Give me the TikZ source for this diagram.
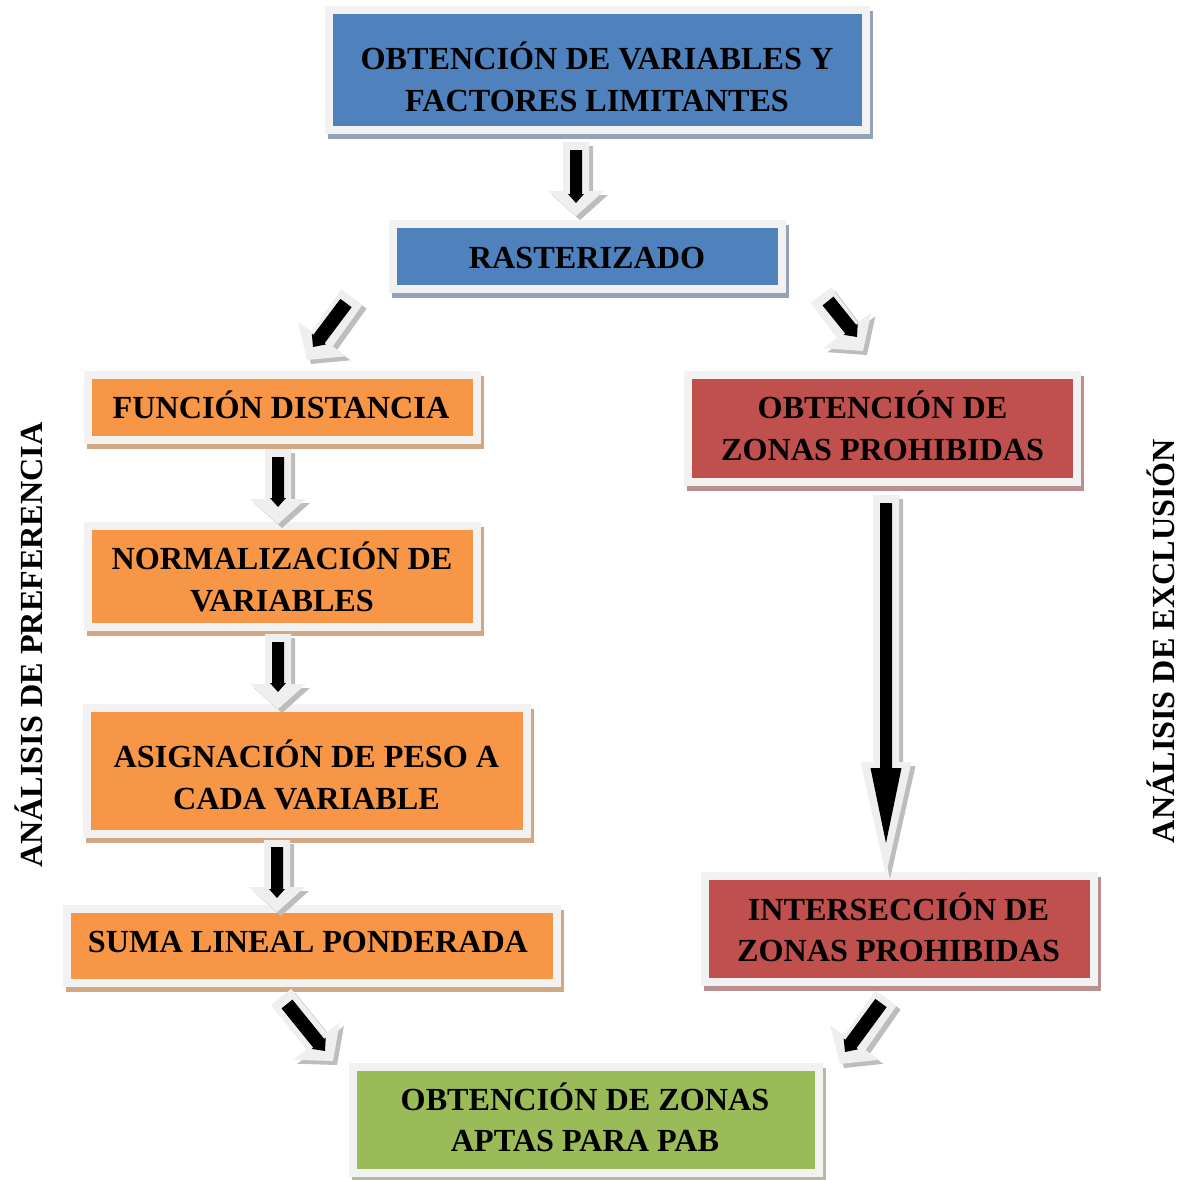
\documentclass[tikz,border=0pt]{standalone}
\usepackage{fontspec}
\setmainfont{Liberation Serif}
\usetikzlibrary{calc}
\definecolor{bxblue}{HTML}{4F81BD}
\definecolor{bxbluesh}{HTML}{95A3B8}
\definecolor{bxorange}{HTML}{F79646}
\definecolor{bxorangesh}{HTML}{D3A684}
\definecolor{bxred}{HTML}{C0504D}
\definecolor{bxredsh}{HTML}{BA8F8F}
\definecolor{bxgreen}{HTML}{9BBB59}
\definecolor{bxgreensh}{HTML}{B3BC9E}
\definecolor{framegray}{HTML}{F2F2F2}
\definecolor{arrlightc}{HTML}{EFEFEF}
\definecolor{arrshc}{HTML}{BDBDBD}
% #1 style, #2 start, #3 tip, #4 half shaft, #5 half head, #6 head length
\newcommand\blockarr[6]{%
  \coordinate (ba-n) at ($(#3)!#6!(#2)$);
  \fill[#1] ($(#2)!#4!90:(#3)$) -- ($(ba-n)!#4!90:(#3)$) -- ($(ba-n)!#5!90:(#3)$) -- (#3)
     -- ($(ba-n)!#5!-90:(#3)$) -- ($(ba-n)!#4!-90:(#3)$) -- ($(#2)!#4!-90:(#3)$) -- cycle;
}
\tikzset{
  box/.style={rectangle, inner sep=0pt, fill=#1, draw=framegray, line width=4pt,
    preaction={draw=#1sh, line width=4pt, transform canvas={xshift=1.5pt,yshift=-2.5pt}}},
  lbl/.style={font=\bfseries\fontsize{16.1}{21}\selectfont, anchor=base, inner sep=0pt},
  arrsh/.style={fill=arrshc, transform canvas={xshift=2pt,yshift=-2pt}},
  arrlt/.style={fill=arrlightc},
  arrbk/.style={fill=black}
}
\begin{document}
\begin{tikzpicture}[x=0.5pt,y=-0.5pt]
\useasboundingbox (0,0) rectangle (1179,1180);
% boxes
\node[box=bxblue, minimum width=268.5pt, minimum height=60pt] (A) at (597.5,70) {};
\node[box=bxblue, minimum width=194.5pt, minimum height=32.5pt] (B) at (587.5,256.5) {};
\node[box=bxorange, minimum width=194.5pt, minimum height=32.5pt] (C) at (282.5,407.5) {};
\node[box=bxorange, minimum width=194.5pt, minimum height=50.5pt] (D) at (282.5,576.5) {};
\node[box=bxorange, minimum width=220pt, minimum height=63pt] (E) at (307,771) {};
\node[box=bxorange, minimum width=245pt, minimum height=37pt] (F) at (312,946) {};
\node[box=bxred, minimum width=194.5pt, minimum height=53.5pt] (G) at (882.5,428.5) {};
\node[box=bxred, minimum width=194.5pt, minimum height=53pt] (H) at (899.5,929) {};
\node[box=bxgreen, minimum width=233pt, minimum height=53pt] (I) at (586,1120) {};
% arrow end points
\coordinate (o1s) at (576,142);  \coordinate (o1e) at (576,216);
\coordinate (k1s) at (576,150);  \coordinate (k1e) at (576,203);
\coordinate (o2s) at (352,297);  \coordinate (o2e) at (307,360);
\coordinate (k2s) at (346,303);  \coordinate (k2e) at (313,347);
\coordinate (o3s) at (821,295);  \coordinate (o3e) at (863,351);
\coordinate (k3s) at (828,301);  \coordinate (k3e) at (857,337);
\coordinate (o4s) at (278,449);  \coordinate (o4e) at (278,524);
\coordinate (k4s) at (278,457);  \coordinate (k4e) at (278,507);
\coordinate (o5s) at (278,634);  \coordinate (o5e) at (278,709);
\coordinate (k5s) at (278,642);  \coordinate (k5e) at (278,692);
\coordinate (o6s) at (277,840);  \coordinate (o6e) at (277,912);
\coordinate (k6s) at (277,847);  \coordinate (k6e) at (277,898);
\coordinate (o7s) at (281,997);  \coordinate (o7e) at (333,1061);
\coordinate (k7s) at (287,1004); \coordinate (k7e) at (325,1051);
\coordinate (o8s) at (886,998);  \coordinate (o8e) at (840,1064);
\coordinate (k8s) at (881,1003); \coordinate (k8e) at (845,1052);
\coordinate (o9s) at (886,495);  \coordinate (o9e) at (886,875);
\coordinate (k9s) at (886,503);  \coordinate (k9e) at (886,843);
% short vertical arrows
\foreach \n in {1,4,5,6}{
  \blockarr{arrsh}{o\n s}{o\n e}{6.5pt}{14pt}{12.5pt}
  \blockarr{arrlt}{o\n s}{o\n e}{6.5pt}{14pt}{12.5pt}
  \blockarr{arrbk}{k\n s}{k\n e}{3pt}{4pt}{4.5pt}
}
% diagonal arrows
\foreach \n in {2,3,7,8}{
  \blockarr{arrsh}{o\n s}{o\n e}{6.5pt}{15pt}{13pt}
  \blockarr{arrlt}{o\n s}{o\n e}{6.5pt}{15pt}{13pt}
  \blockarr{arrbk}{k\n s}{k\n e}{3.5pt}{4.5pt}{5pt}
}
% long arrow
\blockarr{arrsh}{o9s}{o9e}{6.5pt}{12.75pt}{56.5pt}
\blockarr{arrlt}{o9s}{o9e}{6.5pt}{12.75pt}{56.5pt}
\blockarr{arrbk}{k9s}{k9e}{3pt}{7.75pt}{37.5pt}
% texts
\node[lbl] (tA1) at (597,69) {OBTENCIÓN DE VARIABLES Y};
\node[lbl] (tA2) at (597,111) {FACTORES LIMITANTES};
\node[lbl] (tB) at (587,268) {RASTERIZADO};
\node[lbl] (tC) at (281,418) {FUNCIÓN DISTANCIA};
\node[lbl] (tD1) at (282,569) {NORMALIZACIÓN DE};
\node[lbl] (tD2) at (282,611) {VARIABLES};
\node[lbl] (tE1) at (306.5,767) {ASIGNACIÓN DE PESO A};
\node[lbl] (tE2) at (306.5,809) {CADA VARIABLE};
\node[lbl] (tF) at (308,952) {SUMA LINEAL PONDERADA};
\node[lbl] (tG1) at (882.5,418) {OBTENCIÓN DE};
\node[lbl] (tG2) at (882.5,460) {ZONAS PROHIBIDAS};
\node[lbl] (tH1) at (898.5,920) {INTERSECCIÓN DE};
\node[lbl] (tH2) at (898.5,961) {ZONAS PROHIBIDAS};
\node[lbl] (tI1) at (585,1110) {OBTENCIÓN DE ZONAS};
\node[lbl] (tI2) at (585,1151) {APTAS PARA PAB};
\node[lbl, rotate=90] (sl) at (42,645) {ANÁLISIS DE PREFERENCIA};
\node[lbl, rotate=90] (sr) at (1174,641) {ANÁLISIS DE EXCLUSIÓN};
\end{tikzpicture}
\end{document}
